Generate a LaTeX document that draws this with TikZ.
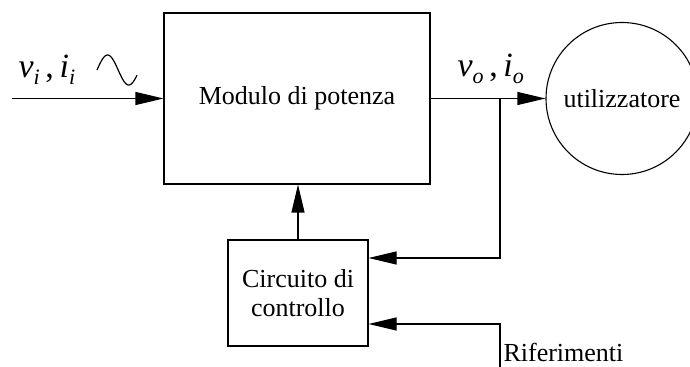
\documentclass[tikz,border=0pt]{standalone}
\usepackage{fontspec}
\setmainfont{Liberation Serif}
\usetikzlibrary{arrows.meta,calc}
\newcommand{\vlab}[2]{\fontsize{17}{20}\selectfont\textit{#1}\raisebox{-3.5pt}{\fontsize{11}{11}\selectfont\textit{#2}}}
\begin{document}
\begin{tikzpicture}[x=0.5pt,y=-0.5pt,
  line width=0.55pt,
  arr/.style={-{Triangle[length=14pt,width=6.5pt]}},
  boxstyle/.style={draw, rectangle, inner sep=0pt, font=\fontsize{13}{14.5}\selectfont, align=center},
  txt/.style={font=\fontsize{13}{14.5}\selectfont}]
\useasboundingbox (0,0) rectangle (690,367);
\node[boxstyle, minimum width=133pt, minimum height=85.5pt] (mod) at (297,98.5) {Modulo di potenza};
\node[draw, circle, inner sep=0pt, minimum size=76pt, txt] (u) at (622,98.5) {utilizzatore};
\node[boxstyle, minimum width=70pt, minimum height=53pt] (ctl) at (298,293) {Circuito di\\controllo};
\coordinate (in) at (12,98.5);
\coordinate (br) at (500,98.5);
\coordinate (rf) at (500,370);
\draw[arr] (in) -- (mod.west);
\draw[arr] (mod.east) -- (u.west);
\draw[arr] (br) |- ([yshift=17.5pt]ctl.east);
\draw[arr] (rf) |- ([yshift=-15.5pt]ctl.east);
\draw[arr] (ctl.north) -- (ctl.north |- mod.south);
\node[anchor=base west, inner sep=0pt] (vi) at (18,78) {\vlab{v}{i}\,,\,\vlab{i}{i}};
\node[anchor=base west, inner sep=0pt] (vo) at (457,77) {\vlab{v}{o}\,,\,\vlab{i}{o}};
\node[anchor=base west, inner sep=0pt, txt] (rif) at (503,362) {Riferimenti};
\draw[line width=0.6pt] plot[domain=0:1, samples=50, smooth] ({97+40*\x},{70-15*sin(340*\x)});
\end{tikzpicture}
\end{document}
